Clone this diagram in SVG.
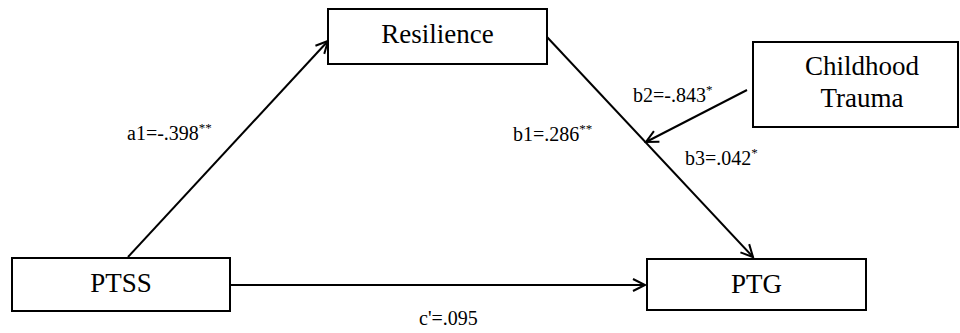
<svg xmlns="http://www.w3.org/2000/svg" width="960" height="333" viewBox="0 0 960 333">
<style>
.box{fill:#fff;stroke:#000;stroke-width:2}
text{font-family:'Liberation Serif','Times New Roman',serif;fill:#000}
.node{font-size:27px}
.edge{font-size:20px}
.sup{font-size:13px}
.conn{stroke:#000;stroke-width:2;fill:none;marker-end:url(#arr)}
</style>
<defs>
<marker id="arr" markerUnits="userSpaceOnUse" markerWidth="16" markerHeight="16" refX="13" refY="7" orient="auto" viewBox="0 0 16 14">
<path d="M1,1 L13,7 L1,13" fill="none" stroke="#000" stroke-width="2"/>
</marker>
</defs>
<rect width="960" height="333" fill="#fff"/>
<g id="connectors">
<line class="conn" x1="128" y1="257" x2="328" y2="41"/>
<line class="conn" x1="547" y1="37" x2="753" y2="257"/>
<line class="conn" x1="747" y1="90" x2="646" y2="142"/>
<line class="conn" x1="230" y1="285" x2="645" y2="285"/>
</g>
<g id="resilience">
<rect class="box" x="328" y="9" width="219" height="55"/>
<text class="node" x="437.5" y="43" text-anchor="middle">Resilience</text>
</g>
<g id="childhood-trauma">
<rect class="box" x="753" y="42" width="205" height="85"/>
<text class="node" x="862" y="75" text-anchor="middle">Childhood</text>
<text class="node" x="862" y="107" text-anchor="middle">Trauma</text>
</g>
<g id="ptss">
<rect class="box" x="12" y="258" width="218" height="53"/>
<text class="node" x="121" y="292" text-anchor="middle">PTSS</text>
</g>
<g id="ptg">
<rect class="box" x="647" y="259" width="219" height="51"/>
<text class="node" x="756.5" y="293" text-anchor="middle">PTG</text>
</g>
<g id="labels">
<text class="edge" x="127" y="140">a1=-.398<tspan class="sup" dy="-8">**</tspan></text>
<text class="edge" x="513" y="141">b1=.286<tspan class="sup" dy="-8">**</tspan></text>
<text class="edge" x="633" y="102">b2=-.843<tspan class="sup" dy="-8">*</tspan></text>
<text class="edge" x="685" y="165">b3=.042<tspan class="sup" dy="-8">*</tspan></text>
<text class="edge" x="419" y="325">c'=.095</text>
</g>
</svg>
